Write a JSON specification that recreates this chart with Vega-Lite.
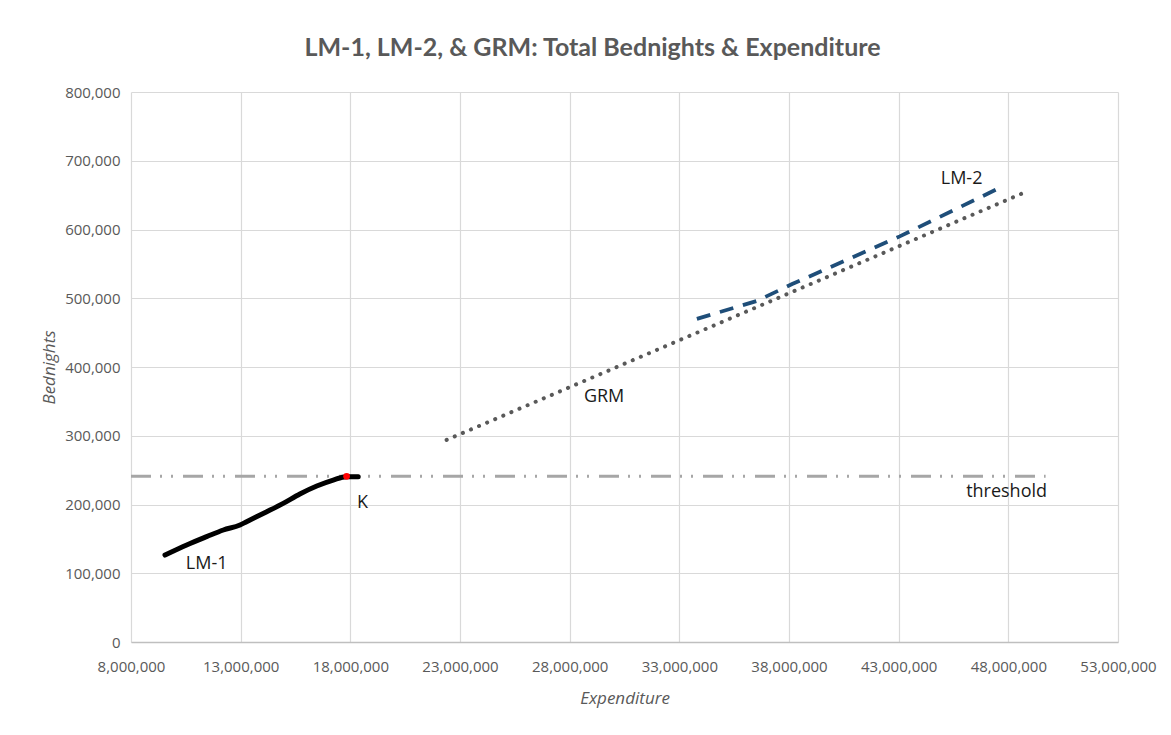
{
  "$schema": "https://vega.github.io/schema/vega-lite/v6.json",
  "width": 987,
  "height": 550,
  "autosize": {"type": "none"},
  "padding": {"left": 131, "top": 92, "right": 53, "bottom": 93},
  "background": "white",
  "title": {
    "text": "LM-1, LM-2, & GRM: Total Bednights & Expenditure",
    "font": "Lato",
    "fontSize": 25,
    "fontWeight": "bold",
    "color": "#595959",
    "anchor": "middle",
    "dx": -32,
    "offset": 24
  },
  "datasets": {
    "lm1": [
      {"Expenditure": 9550000, "Bednights": 126500},
      {"Expenditure": 10540000, "Bednights": 141100},
      {"Expenditure": 11450000, "Bednights": 153200},
      {"Expenditure": 12210000, "Bednights": 162900},
      {"Expenditure": 12970000, "Bednights": 170200},
      {"Expenditure": 13270000, "Bednights": 175000},
      {"Expenditure": 14190000, "Bednights": 189500},
      {"Expenditure": 14940000, "Bednights": 201700},
      {"Expenditure": 15700000, "Bednights": 215300},
      {"Expenditure": 16470000, "Bednights": 226900},
      {"Expenditure": 17220000, "Bednights": 235600},
      {"Expenditure": 17830000, "Bednights": 240500},
      {"Expenditure": 18360000, "Bednights": 240500}
    ],
    "lm2": [
      {"Expenditure": 33800000, "Bednights": 470000},
      {"Expenditure": 36530000, "Bednights": 496000},
      {"Expenditure": 38170000, "Bednights": 521000},
      {"Expenditure": 43050000, "Bednights": 590000},
      {"Expenditure": 47470000, "Bednights": 658500}
    ],
    "grm": [
      {"Expenditure": 22390000, "Bednights": 294000},
      {"Expenditure": 48820000, "Bednights": 655000}
    ],
    "threshold": [
      {"Expenditure": 8000000, "Bednights": 241000},
      {"Expenditure": 49700000, "Bednights": 241000}
    ],
    "k": [
      {"Expenditure": 17830000, "Bednights": 241000}
    ],
    "labels": [
      {"Expenditure": 11450000, "Bednights": 113500, "label": "LM-1"},
      {"Expenditure": 18550000, "Bednights": 201500, "label": "K"},
      {"Expenditure": 29570000, "Bednights": 357000, "label": "GRM"},
      {"Expenditure": 45870000, "Bednights": 673500, "label": "LM-2"},
      {"Expenditure": 47920000, "Bednights": 218900, "label": "threshold"}
    ]
  },
  "config": {
    "view": {"stroke": null},
    "axis": {
      "labelFont": "Open Sans",
      "labelFontSize": 15,
      "labelColor": "#595959",
      "titleFont": "Open Sans",
      "titleFontSize": 17,
      "titleFontStyle": "italic",
      "titleFontWeight": "normal",
      "titleColor": "#595959",
      "gridColor": "#d9d9d9",
      "gridWidth": 1.2,
      "gridOpacity": 1,
      "ticks": false
    }
  },
  "encoding": {
    "x": {
      "field": "Expenditure",
      "type": "quantitative",
      "scale": {"domain": [8000000, 53000000], "nice": false, "zero": false},
      "axis": {
        "title": "Expenditure",
        "values": [8000000, 13000000, 18000000, 23000000, 28000000, 33000000, 38000000, 43000000, 48000000, 53000000],
        "format": ",d",
        "labelPadding": 17,
        "titlePadding": 16,
        "domainColor": "#bfbfbf",
        "domainWidth": 1.5,
        "labelFlush": false
      }
    },
    "y": {
      "field": "Bednights",
      "type": "quantitative",
      "scale": {"domain": [0, 800000], "nice": false},
      "axis": {
        "title": "Bednights",
        "values": [0, 100000, 200000, 300000, 400000, 500000, 600000, 700000, 800000],
        "format": ",d",
        "labelPadding": 11,
        "titlePadding": 6,
        "domain": false,
        "labelFlush": false
      }
    }
  },
  "layer": [
    {
      "data": {"name": "threshold"},
      "mark": {"type": "line", "color": "#a6a6a6", "strokeWidth": 3, "strokeDash": [20, 9, 2, 9, 2, 10], "strokeCap": "butt"}
    },
    {
      "data": {"name": "grm"},
      "mark": {"type": "line", "color": "#595959", "strokeWidth": 4, "strokeDash": [0.1, 8.7], "strokeCap": "round"}
    },
    {
      "data": {"name": "lm2"},
      "mark": {"type": "line", "color": "#1f4e79", "strokeWidth": 3.8, "strokeDash": [14, 10], "strokeCap": "butt"}
    },
    {
      "data": {"name": "lm1"},
      "mark": {"type": "line", "color": "#000000", "strokeWidth": 5, "strokeCap": "round", "strokeJoin": "round", "interpolate": "monotone"}
    },
    {
      "data": {"name": "k"},
      "mark": {"type": "point", "filled": true, "color": "#ff0000", "size": 45, "opacity": 1}
    },
    {
      "data": {"name": "labels"},
      "mark": {"type": "text", "font": "Open Sans", "fontSize": 18, "color": "#1a1a1a", "align": "center", "baseline": "middle"},
      "encoding": {"text": {"field": "label", "type": "nominal"}}
    }
  ]
}
